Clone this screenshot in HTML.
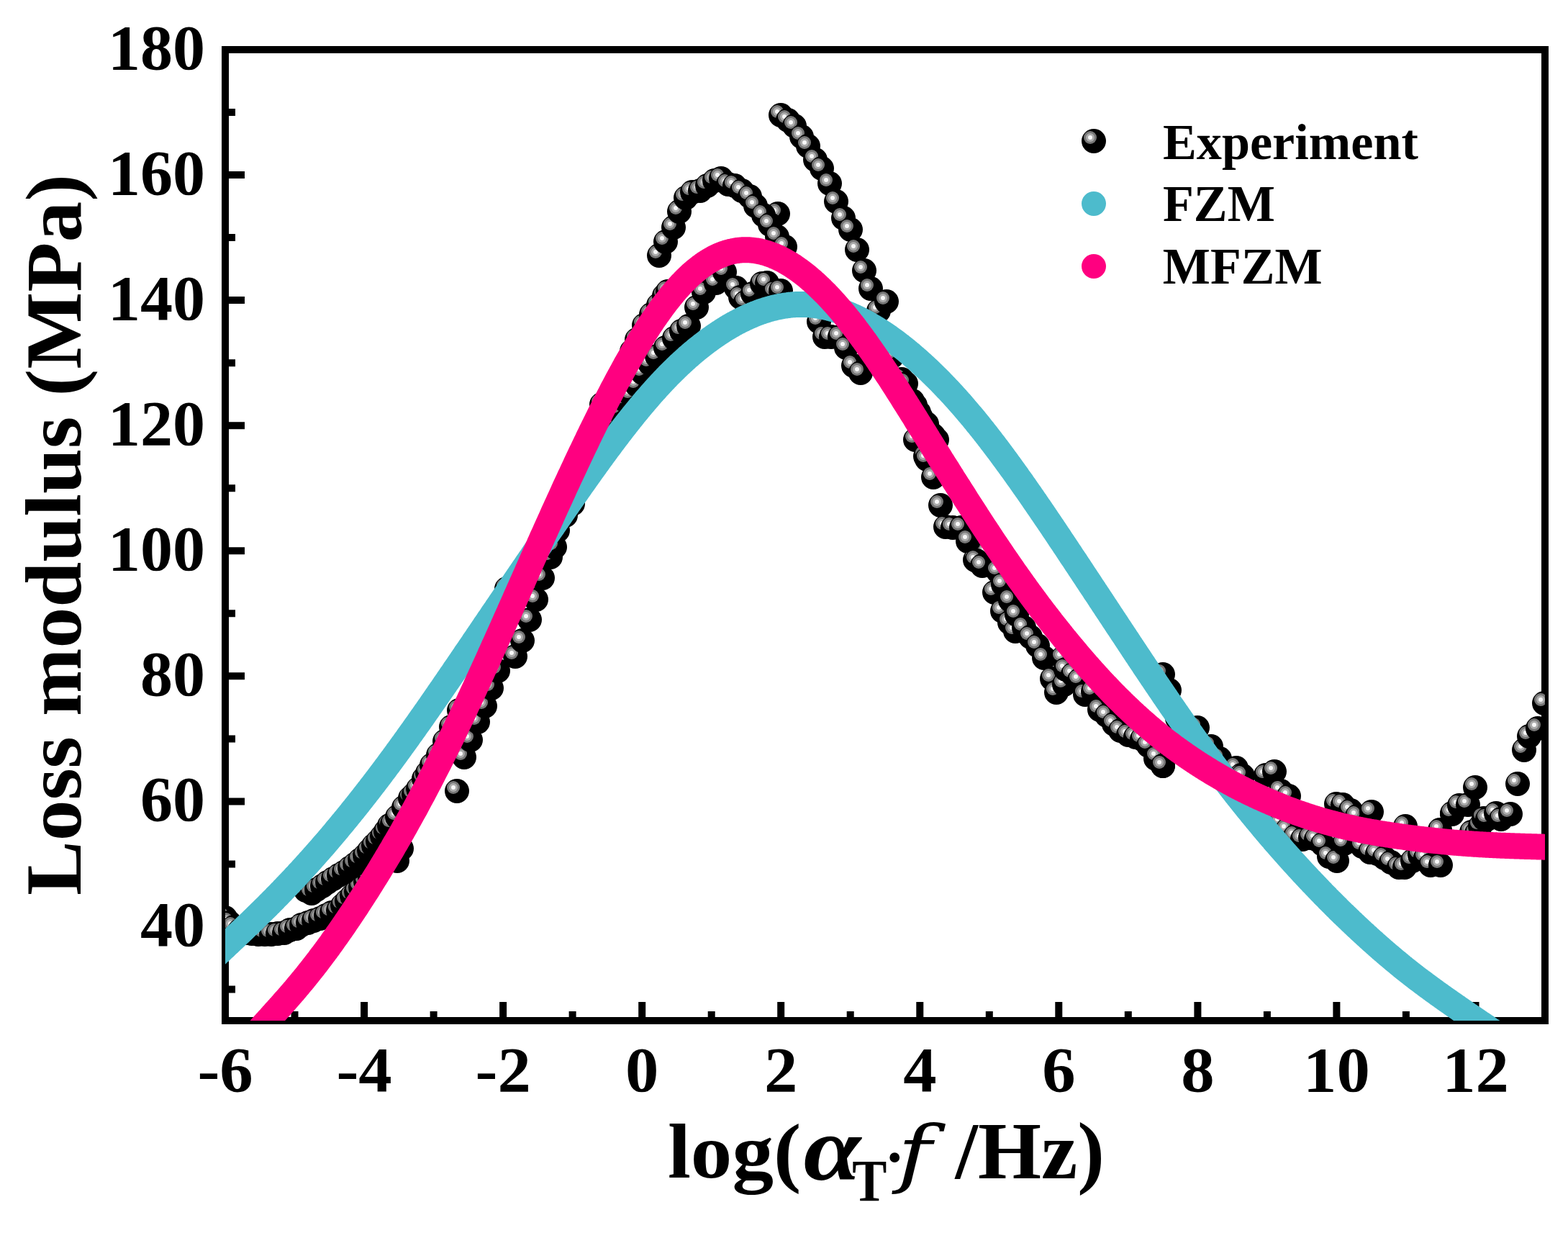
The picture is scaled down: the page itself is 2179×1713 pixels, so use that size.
<!DOCTYPE html><html><head><meta charset="utf-8"><title>Loss modulus</title><style>html,body{margin:0;padding:0;background:#fff;overflow:hidden}svg{display:block}text{font-family:"Liberation Serif",serif;font-kerning:none;fill:#000}</style></head><body>
<svg width="2179" height="1713" viewBox="0 0 2179 1713" xmlns="http://www.w3.org/2000/svg">
<defs><clipPath id="pc"><rect x="313" y="69" width="1834" height="1349"/></clipPath><g id="b"><circle r="17" fill="#000"/><circle cx="-5" cy="-5" r="9" fill="#777"/><circle cx="-5" cy="-5" r="6" fill="#ababab"/><circle cx="-5" cy="-5" r="3" fill="#f8f8f8"/></g></defs>
<rect x="313" y="69" width="1834" height="1349" fill="none" stroke="#000" stroke-width="10"/>
<path d="M313 1374.5h14 M313 1287.5h27 M313 1200.4h14 M313 1113.4h27 M313 1026.4h14 M313 939.3h27 M313 852.3h14 M313 765.3h27 M313 678.2h14 M313 591.2h27 M313 504.2h14 M313 417.1h27 M313 330.1h14 M313 243.1h27 M313 156.0h14 M313 69.0h27 M409.5 1418v-13 M506.1 1418v-26 M602.6 1418v-13 M699.1 1418v-26 M795.6 1418v-13 M892.2 1418v-26 M988.7 1418v-13 M1085.2 1418v-26 M1181.7 1418v-13 M1278.3 1418v-26 M1374.8 1418v-13 M1471.3 1418v-26 M1567.8 1418v-13 M1664.4 1418v-26 M1760.9 1418v-13 M1857.4 1418v-26 M1953.9 1418v-13 M2050.5 1418v-26" stroke="#000" stroke-width="10" fill="none"/>
<g transform="matrix(1.0000,0,0,0.9770,0.00,1220.28)"><text x="285" y="96" font-size="90" font-weight="bold" text-anchor="end">40</text></g>
<g transform="matrix(1.0000,0,0,0.9770,0.00,1046.21)"><text x="285" y="96" font-size="90" font-weight="bold" text-anchor="end">60</text></g>
<g transform="matrix(1.0000,0,0,0.9770,0.00,872.15)"><text x="285" y="96" font-size="90" font-weight="bold" text-anchor="end">80</text></g>
<g transform="matrix(1.0000,0,0,0.9770,0.00,698.08)"><text x="285" y="96" font-size="90" font-weight="bold" text-anchor="end">100</text></g>
<g transform="matrix(1.0000,0,0,0.9770,0.00,524.02)"><text x="285" y="96" font-size="90" font-weight="bold" text-anchor="end">120</text></g>
<g transform="matrix(1.0000,0,0,0.9770,0.00,349.96)"><text x="285" y="96" font-size="90" font-weight="bold" text-anchor="end">140</text></g>
<g transform="matrix(1.0000,0,0,0.9770,0.00,175.89)"><text x="285" y="96" font-size="90" font-weight="bold" text-anchor="end">160</text></g>
<g transform="matrix(1.0000,0,0,0.9770,0.00,1.83)"><text x="285" y="96" font-size="90" font-weight="bold" text-anchor="end">180</text></g>
<g transform="matrix(1.0304,0,0,0.9869,-1600.91,18.81)"><text x="1857.5" y="1517" font-size="90" font-weight="bold" text-anchor="middle">-6</text></g>
<g transform="matrix(1.0304,0,0,0.9869,-1407.86,18.81)"><text x="1857.5" y="1517" font-size="90" font-weight="bold" text-anchor="middle">-4</text></g>
<g transform="matrix(1.0304,0,0,0.9869,-1214.81,18.81)"><text x="1857.5" y="1517" font-size="90" font-weight="bold" text-anchor="middle">-2</text></g>
<g transform="matrix(1.0304,0,0,0.9869,-1021.75,18.81)"><text x="1857.5" y="1517" font-size="90" font-weight="bold" text-anchor="middle">0</text></g>
<g transform="matrix(1.0304,0,0,0.9869,-828.70,18.81)"><text x="1857.5" y="1517" font-size="90" font-weight="bold" text-anchor="middle">2</text></g>
<g transform="matrix(1.0304,0,0,0.9869,-635.65,18.81)"><text x="1857.5" y="1517" font-size="90" font-weight="bold" text-anchor="middle">4</text></g>
<g transform="matrix(1.0304,0,0,0.9869,-442.60,18.81)"><text x="1857.5" y="1517" font-size="90" font-weight="bold" text-anchor="middle">6</text></g>
<g transform="matrix(1.0304,0,0,0.9869,-249.54,18.81)"><text x="1857.5" y="1517" font-size="90" font-weight="bold" text-anchor="middle">8</text></g>
<g transform="matrix(1.0304,0,0,0.9869,-56.49,18.81)"><text x="1857.5" y="1517" font-size="90" font-weight="bold" text-anchor="middle">10</text></g>
<g transform="matrix(1.0304,0,0,0.9869,136.56,18.81)"><text x="1857.5" y="1517" font-size="90" font-weight="bold" text-anchor="middle">12</text></g>
<g clip-path="url(#pc)">
<use href="#b" x="313" y="1275"/><use href="#b" x="319" y="1282"/><use href="#b" x="325" y="1288"/><use href="#b" x="333" y="1293"/><use href="#b" x="341" y="1296"/><use href="#b" x="350" y="1297"/><use href="#b" x="359" y="1298"/><use href="#b" x="368" y="1298"/><use href="#b" x="377" y="1298"/><use href="#b" x="386" y="1297"/><use href="#b" x="395" y="1296"/><use href="#b" x="403" y="1292"/><use href="#b" x="412" y="1290"/><use href="#b" x="419" y="1285"/><use href="#b" x="428" y="1282"/><use href="#b" x="436" y="1279"/><use href="#b" x="445" y="1276"/><use href="#b" x="453" y="1272"/><use href="#b" x="461" y="1268"/><use href="#b" x="470" y="1265"/><use href="#b" x="476" y="1258"/><use href="#b" x="482" y="1252"/><use href="#b" x="489" y="1245"/><use href="#b" x="495" y="1239"/><use href="#b" x="501" y="1233"/><use href="#b" x="508" y="1226"/><use href="#b" x="514" y="1219"/><use href="#b" x="519" y="1212"/><use href="#b" x="524" y="1205"/><use href="#b" x="530" y="1197"/><use href="#b" x="535" y="1190"/><use href="#b" x="540" y="1183"/><use href="#b" x="545" y="1175"/><use href="#b" x="425" y="1237"/><use href="#b" x="433" y="1241"/><use href="#b" x="440" y="1236"/><use href="#b" x="448" y="1231"/><use href="#b" x="455" y="1226"/><use href="#b" x="463" y="1221"/><use href="#b" x="471" y="1216"/><use href="#b" x="478" y="1212"/><use href="#b" x="486" y="1206"/><use href="#b" x="493" y="1201"/><use href="#b" x="500" y="1195"/><use href="#b" x="507" y="1189"/><use href="#b" x="513" y="1182"/><use href="#b" x="519" y="1175"/><use href="#b" x="525" y="1169"/><use href="#b" x="531" y="1162"/><use href="#b" x="536" y="1155"/><use href="#b" x="541" y="1147"/><use href="#b" x="545" y="1145"/><use href="#b" x="552" y="1135"/><use href="#b" x="561" y="1122"/><use href="#b" x="570" y="1109"/><use href="#b" x="575" y="1104"/><use href="#b" x="581" y="1096"/><use href="#b" x="589" y="1082"/><use href="#b" x="594" y="1074"/><use href="#b" x="600" y="1063"/><use href="#b" x="609" y="1049"/><use href="#b" x="618" y="1030"/><use href="#b" x="627" y="1010"/><use href="#b" x="638" y="987"/><use href="#b" x="552" y="1196"/><use href="#b" x="558" y="1179"/><use href="#b" x="635" y="1099"/><use href="#b" x="645" y="1052"/><use href="#b" x="654" y="1028"/><use href="#b" x="664" y="1003"/><use href="#b" x="674" y="981"/><use href="#b" x="683" y="956"/><use href="#b" x="692" y="932"/><use href="#b" x="704" y="818"/><use href="#b" x="716" y="912"/><use href="#b" x="726" y="890"/><use href="#b" x="736" y="861"/><use href="#b" x="745" y="833"/><use href="#b" x="754" y="803"/><use href="#b" x="765" y="774"/><use href="#b" x="771" y="760"/><use href="#b" x="775" y="737"/><use href="#b" x="786" y="716"/><use href="#b" x="796" y="700"/><use href="#b" x="836" y="562"/><use href="#b" x="869" y="507"/><use href="#b" x="878" y="488"/><use href="#b" x="885" y="472"/><use href="#b" x="895" y="452"/><use href="#b" x="905" y="437"/><use href="#b" x="915" y="424"/><use href="#b" x="923" y="411"/><use href="#b" x="928" y="405"/><use href="#b" x="838" y="600"/><use href="#b" x="848" y="585"/><use href="#b" x="858" y="570"/><use href="#b" x="868" y="556"/><use href="#b" x="877" y="549"/><use href="#b" x="885" y="535"/><use href="#b" x="893" y="518"/><use href="#b" x="903" y="505"/><use href="#b" x="913" y="495"/><use href="#b" x="925" y="483"/><use href="#b" x="937" y="470"/><use href="#b" x="947" y="460"/><use href="#b" x="957" y="453"/><use href="#b" x="968" y="427"/><use href="#b" x="978" y="406"/><use href="#b" x="995" y="393"/><use href="#b" x="1007" y="378"/><use href="#b" x="1023" y="400"/><use href="#b" x="1029" y="413"/><use href="#b" x="1036" y="420"/><use href="#b" x="1046" y="408"/><use href="#b" x="1059" y="394"/><use href="#b" x="1066" y="393"/><use href="#b" x="1077" y="406"/><use href="#b" x="1081" y="297"/><use href="#b" x="1085" y="404"/><use href="#b" x="1138" y="447"/><use href="#b" x="1146" y="468"/><use href="#b" x="1155" y="468"/><use href="#b" x="1167" y="468"/><use href="#b" x="1176" y="483"/><use href="#b" x="1186" y="508"/><use href="#b" x="1196" y="518"/><use href="#b" x="916" y="355"/><use href="#b" x="925" y="336"/><use href="#b" x="936" y="316"/><use href="#b" x="944" y="294"/><use href="#b" x="953" y="275"/><use href="#b" x="962" y="267"/><use href="#b" x="973" y="265"/><use href="#b" x="983" y="258"/><use href="#b" x="993" y="251"/><use href="#b" x="1002" y="248"/><use href="#b" x="1012" y="256"/><use href="#b" x="1021" y="258"/><use href="#b" x="1031" y="265"/><use href="#b" x="1042" y="273"/><use href="#b" x="1050" y="286"/><use href="#b" x="1061" y="299"/><use href="#b" x="1070" y="312"/><use href="#b" x="1080" y="329"/><use href="#b" x="1091" y="343"/><use href="#b" x="1085" y="160"/><use href="#b" x="1095" y="167"/><use href="#b" x="1104" y="175"/><use href="#b" x="1114" y="190"/><use href="#b" x="1123" y="203"/><use href="#b" x="1133" y="222"/><use href="#b" x="1142" y="234"/><use href="#b" x="1153" y="255"/><use href="#b" x="1162" y="280"/><use href="#b" x="1172" y="303"/><use href="#b" x="1182" y="319"/><use href="#b" x="1191" y="347"/><use href="#b" x="1201" y="376"/><use href="#b" x="1210" y="401"/><use href="#b" x="1221" y="432"/><use href="#b" x="1232" y="419"/><use href="#b" x="1240" y="495"/><use href="#b" x="1253" y="527"/><use href="#b" x="1259" y="533"/><use href="#b" x="1268" y="557"/><use href="#b" x="1272" y="563"/><use href="#b" x="1272" y="611"/><use href="#b" x="1277" y="573"/><use href="#b" x="1280" y="580"/><use href="#b" x="1286" y="634"/><use href="#b" x="1288" y="638"/><use href="#b" x="1288" y="589"/><use href="#b" x="1291" y="599"/><use href="#b" x="1297" y="605"/><use href="#b" x="1297" y="663"/><use href="#b" x="1302" y="611"/><use href="#b" x="1307" y="702"/><use href="#b" x="1314" y="732"/><use href="#b" x="1324" y="733"/><use href="#b" x="1336" y="733"/><use href="#b" x="1345" y="752"/><use href="#b" x="1355" y="778"/><use href="#b" x="1365" y="783"/><use href="#b" x="1372" y="768"/><use href="#b" x="1346" y="751"/><use href="#b" x="1357" y="779"/><use href="#b" x="1365" y="786"/><use href="#b" x="1382" y="823"/><use href="#b" x="1387" y="794"/><use href="#b" x="1393" y="849"/><use href="#b" x="1394" y="812"/><use href="#b" x="1403" y="865"/><use href="#b" x="1404" y="834"/><use href="#b" x="1411" y="877"/><use href="#b" x="1413" y="854"/><use href="#b" x="1423" y="872"/><use href="#b" x="1432" y="885"/><use href="#b" x="1442" y="897"/><use href="#b" x="1451" y="914"/><use href="#b" x="1462" y="943"/><use href="#b" x="1468" y="962"/><use href="#b" x="1477" y="914"/><use href="#b" x="1479" y="951"/><use href="#b" x="1481" y="930"/><use href="#b" x="1491" y="937"/><use href="#b" x="1500" y="945"/><use href="#b" x="1508" y="965"/><use href="#b" x="1519" y="961"/><use href="#b" x="1528" y="986"/><use href="#b" x="1538" y="994"/><use href="#b" x="1548" y="1006"/><use href="#b" x="1557" y="1015"/><use href="#b" x="1568" y="1021"/><use href="#b" x="1578" y="1024"/><use href="#b" x="1587" y="1027"/><use href="#b" x="1596" y="1036"/><use href="#b" x="1606" y="1054"/><use href="#b" x="1608" y="1052"/><use href="#b" x="1616" y="1064"/><use href="#b" x="1616" y="1064"/><use href="#b" x="1616" y="937"/><use href="#b" x="1625" y="959"/><use href="#b" x="1636" y="998"/><use href="#b" x="1664" y="1011"/><use href="#b" x="1683" y="1037"/><use href="#b" x="1695" y="1054"/><use href="#b" x="1717" y="1068"/><use href="#b" x="1718" y="1067"/><use href="#b" x="1725" y="1077"/><use href="#b" x="1727" y="1078"/><use href="#b" x="1759" y="1077"/><use href="#b" x="1771" y="1072"/><use href="#b" x="1780" y="1099"/><use href="#b" x="1791" y="1106"/><use href="#b" x="1857" y="1117"/><use href="#b" x="1866" y="1118"/><use href="#b" x="1877" y="1126"/><use href="#b" x="1886" y="1134"/><use href="#b" x="1906" y="1128"/><use href="#b" x="1953" y="1148"/><use href="#b" x="2001" y="1153"/><use href="#b" x="2018" y="1131"/><use href="#b" x="2018" y="1130"/><use href="#b" x="2028" y="1119"/><use href="#b" x="2040" y="1118"/><use href="#b" x="2045" y="1156"/><use href="#b" x="2050" y="1094"/><use href="#b" x="2052" y="1158"/><use href="#b" x="2057" y="1148"/><use href="#b" x="2062" y="1137"/><use href="#b" x="2067" y="1138"/><use href="#b" x="2079" y="1130"/><use href="#b" x="2086" y="1138"/><use href="#b" x="2099" y="1131"/><use href="#b" x="2109" y="1089"/><use href="#b" x="2118" y="1042"/><use href="#b" x="2125" y="1023"/><use href="#b" x="2137" y="1012"/><use href="#b" x="2146" y="977"/><use href="#b" x="1780" y="1143"/><use href="#b" x="1789" y="1153"/><use href="#b" x="1800" y="1162"/><use href="#b" x="1810" y="1166"/><use href="#b" x="1821" y="1164"/><use href="#b" x="1829" y="1166"/><use href="#b" x="1838" y="1173"/><use href="#b" x="1847" y="1190"/><use href="#b" x="1858" y="1196"/><use href="#b" x="1868" y="1172"/><use href="#b" x="1893" y="1176"/><use href="#b" x="1904" y="1184"/><use href="#b" x="1914" y="1186"/><use href="#b" x="1924" y="1192"/><use href="#b" x="1933" y="1198"/><use href="#b" x="1944" y="1205"/><use href="#b" x="1952" y="1205"/><use href="#b" x="1963" y="1196"/><use href="#b" x="1973" y="1188"/><use href="#b" x="1981" y="1192"/><use href="#b" x="1988" y="1202"/><use href="#b" x="2002" y="1202"/>
<path d="M300.0 1327.2 L301.3 1326.0 L302.6 1324.8 L303.8 1323.6 L305.1 1322.4 L306.4 1321.2 L307.7 1320.0 L308.9 1318.8 L310.2 1317.6 L311.5 1316.4 L312.8 1315.2 L314.0 1314.0 L315.3 1312.8 L316.6 1311.6 L317.9 1310.4 L319.1 1309.2 L320.4 1308.0 L321.7 1306.8 L323.0 1305.6 L324.2 1304.4 L325.5 1303.2 L326.8 1301.9 L328.1 1300.7 L329.3 1299.5 L330.6 1298.3 L331.9 1297.1 L333.2 1295.9 L334.4 1294.7 L335.7 1293.4 L337.0 1292.2 L338.3 1291.0 L339.6 1289.8 L340.8 1288.6 L342.1 1287.3 L343.4 1286.1 L344.7 1284.9 L345.9 1283.7 L347.2 1282.4 L348.5 1281.2 L349.8 1280.0 L351.0 1278.7 L352.3 1277.5 L353.6 1276.3 L354.9 1275.0 L356.1 1273.8 L357.4 1272.5 L358.7 1271.3 L360.0 1270.0 L361.2 1268.8 L362.5 1267.5 L363.8 1266.3 L365.1 1265.0 L366.3 1263.8 L367.6 1262.5 L368.9 1261.2 L370.2 1260.0 L371.5 1258.7 L372.7 1257.4 L374.0 1256.1 L375.3 1254.9 L376.6 1253.6 L377.8 1252.3 L379.1 1251.0 L380.4 1249.7 L381.7 1248.4 L382.9 1247.1 L384.2 1245.8 L385.5 1244.5 L386.8 1243.2 L388.0 1241.9 L389.3 1240.6 L390.6 1239.3 L391.9 1237.9 L393.1 1236.6 L394.4 1235.3 L395.7 1234.0 L397.0 1232.6 L398.2 1231.3 L399.5 1230.0 L400.8 1228.6 L402.1 1227.3 L403.3 1225.9 L404.6 1224.6 L405.9 1223.2 L407.2 1221.9 L408.5 1220.5 L409.7 1219.1 L411.0 1217.8 L412.3 1216.4 L413.6 1215.0 L414.8 1213.6 L416.1 1212.3 L417.4 1210.9 L418.7 1209.5 L419.9 1208.1 L421.2 1206.7 L422.5 1205.3 L423.8 1203.9 L425.0 1202.5 L426.3 1201.1 L427.6 1199.7 L428.9 1198.2 L430.1 1196.8 L431.4 1195.4 L432.7 1194.0 L434.0 1192.5 L435.2 1191.1 L436.5 1189.7 L437.8 1188.2 L439.1 1186.8 L440.4 1185.3 L441.6 1183.9 L442.9 1182.4 L444.2 1181.0 L445.5 1179.5 L446.7 1178.1 L448.0 1176.6 L449.3 1175.1 L450.6 1173.6 L451.8 1172.2 L453.1 1170.7 L454.4 1169.2 L455.7 1167.7 L456.9 1166.2 L458.2 1164.7 L459.5 1163.2 L460.8 1161.7 L462.0 1160.2 L463.3 1158.7 L464.6 1157.2 L465.9 1155.7 L467.1 1154.1 L468.4 1152.6 L469.7 1151.1 L471.0 1149.5 L472.2 1148.0 L473.5 1146.5 L474.8 1144.9 L476.1 1143.4 L477.4 1141.8 L478.6 1140.3 L479.9 1138.7 L481.2 1137.2 L482.5 1135.6 L483.7 1134.0 L485.0 1132.5 L486.3 1130.9 L487.6 1129.3 L488.8 1127.7 L490.1 1126.1 L491.4 1124.6 L492.7 1123.0 L493.9 1121.4 L495.2 1119.8 L496.5 1118.2 L497.8 1116.6 L499.0 1115.0 L500.3 1113.3 L501.6 1111.7 L502.9 1110.1 L504.1 1108.5 L505.4 1106.9 L506.7 1105.2 L508.0 1103.6 L509.2 1102.0 L510.5 1100.3 L511.8 1098.7 L513.1 1097.0 L514.4 1095.4 L515.6 1093.7 L516.9 1092.1 L518.2 1090.4 L519.5 1088.7 L520.7 1087.1 L522.0 1085.4 L523.3 1083.7 L524.6 1082.1 L525.8 1080.4 L527.1 1078.7 L528.4 1077.0 L529.7 1075.3 L530.9 1073.6 L532.2 1071.9 L533.5 1070.2 L534.8 1068.5 L536.0 1066.8 L537.3 1065.1 L538.6 1063.4 L539.9 1061.7 L541.1 1059.9 L542.4 1058.2 L543.7 1056.5 L545.0 1054.8 L546.3 1053.0 L547.5 1051.3 L548.8 1049.6 L550.1 1047.8 L551.4 1046.1 L552.6 1044.3 L553.9 1042.6 L555.2 1040.8 L556.5 1039.1 L557.7 1037.3 L559.0 1035.5 L560.3 1033.8 L561.6 1032.0 L562.8 1030.2 L564.1 1028.5 L565.4 1026.7 L566.7 1024.9 L567.9 1023.1 L569.2 1021.3 L570.5 1019.5 L571.8 1017.8 L573.0 1016.0 L574.3 1014.2 L575.6 1012.4 L576.9 1010.6 L578.1 1008.8 L579.4 1007.0 L580.7 1005.2 L582.0 1003.4 L583.3 1001.5 L584.5 999.7 L585.8 997.9 L587.1 996.1 L588.4 994.3 L589.6 992.5 L590.9 990.6 L592.2 988.8 L593.5 987.0 L594.7 985.2 L596.0 983.3 L597.3 981.5 L598.6 979.7 L599.8 977.8 L601.1 976.0 L602.4 974.1 L603.7 972.3 L604.9 970.5 L606.2 968.6 L607.5 966.8 L608.8 964.9 L610.0 963.1 L611.3 961.2 L612.6 959.4 L613.9 957.5 L615.2 955.7 L616.4 953.8 L617.7 951.9 L619.0 950.1 L620.3 948.2 L621.5 946.4 L622.8 944.5 L624.1 942.6 L625.4 940.8 L626.6 938.9 L627.9 937.0 L629.2 935.2 L630.5 933.3 L631.7 931.4 L633.0 929.6 L634.3 927.7 L635.6 925.8 L636.8 924.0 L638.1 922.1 L639.4 920.2 L640.7 918.3 L641.9 916.5 L643.2 914.6 L644.5 912.7 L645.8 910.8 L647.0 908.9 L648.3 907.1 L649.6 905.2 L650.9 903.3 L652.2 901.4 L653.4 899.5 L654.7 897.7 L656.0 895.8 L657.3 893.9 L658.5 892.0 L659.8 890.1 L661.1 888.3 L662.4 886.4 L663.6 884.5 L664.9 882.6 L666.2 880.7 L667.5 878.8 L668.7 877.0 L670.0 875.1 L671.3 873.2 L672.6 871.3 L673.8 869.4 L675.1 867.6 L676.4 865.7 L677.7 863.8 L678.9 861.9 L680.2 860.0 L681.5 858.2 L682.8 856.3 L684.0 854.4 L685.3 852.5 L686.6 850.6 L687.9 848.8 L689.2 846.9 L690.4 845.0 L691.7 843.1 L693.0 841.2 L694.3 839.4 L695.5 837.5 L696.8 835.6 L698.1 833.7 L699.4 831.9 L700.6 830.0 L701.9 828.1 L703.2 826.2 L704.5 824.3 L705.7 822.5 L707.0 820.6 L708.3 818.7 L709.6 816.8 L710.8 815.0 L712.1 813.1 L713.4 811.2 L714.7 809.3 L715.9 807.5 L717.2 805.6 L718.5 803.7 L719.8 801.9 L721.1 800.0 L722.3 798.1 L723.6 796.2 L724.9 794.4 L726.2 792.5 L727.4 790.6 L728.7 788.8 L730.0 786.9 L731.3 785.0 L732.5 783.1 L733.8 781.3 L735.1 779.4 L736.4 777.5 L737.6 775.7 L738.9 773.8 L740.2 771.9 L741.5 770.1 L742.7 768.2 L744.0 766.3 L745.3 764.5 L746.6 762.6 L747.8 760.8 L749.1 758.9 L750.4 757.0 L751.7 755.2 L752.9 753.3 L754.2 751.5 L755.5 749.6 L756.8 747.8 L758.1 745.9 L759.3 744.0 L760.6 742.2 L761.9 740.3 L763.2 738.5 L764.4 736.6 L765.7 734.8 L767.0 732.9 L768.3 731.1 L769.5 729.2 L770.8 727.4 L772.1 725.5 L773.4 723.7 L774.6 721.8 L775.9 720.0 L777.2 718.2 L778.5 716.3 L779.7 714.5 L781.0 712.6 L782.3 710.8 L783.6 709.0 L784.8 707.1 L786.1 705.3 L787.4 703.5 L788.7 701.6 L789.9 699.8 L791.2 698.0 L792.5 696.1 L793.8 694.3 L795.1 692.5 L796.3 690.6 L797.6 688.8 L798.9 687.0 L800.2 685.2 L801.4 683.4 L802.7 681.5 L804.0 679.7 L805.3 677.9 L806.5 676.1 L807.8 674.3 L809.1 672.5 L810.4 670.7 L811.6 668.9 L812.9 667.1 L814.2 665.3 L815.5 663.5 L816.7 661.7 L818.0 659.9 L819.3 658.1 L820.6 656.3 L821.8 654.5 L823.1 652.7 L824.4 651.0 L825.7 649.2 L827.0 647.4 L828.2 645.6 L829.5 643.9 L830.8 642.1 L832.1 640.3 L833.3 638.6 L834.6 636.8 L835.9 635.1 L837.2 633.3 L838.4 631.6 L839.7 629.9 L841.0 628.1 L842.3 626.4 L843.5 624.7 L844.8 622.9 L846.1 621.2 L847.4 619.5 L848.6 617.8 L849.9 616.1 L851.2 614.4 L852.5 612.7 L853.7 611.0 L855.0 609.3 L856.3 607.6 L857.6 606.0 L858.8 604.3 L860.1 602.6 L861.4 600.9 L862.7 599.3 L864.0 597.6 L865.2 596.0 L866.5 594.3 L867.8 592.7 L869.1 591.1 L870.3 589.4 L871.6 587.8 L872.9 586.2 L874.2 584.6 L875.4 583.0 L876.7 581.4 L878.0 579.8 L879.3 578.2 L880.5 576.6 L881.8 575.0 L883.1 573.5 L884.4 571.9 L885.6 570.4 L886.9 568.8 L888.2 567.3 L889.5 565.7 L890.7 564.2 L892.0 562.7 L893.3 561.1 L894.6 559.6 L895.9 558.1 L897.1 556.6 L898.4 555.1 L899.7 553.7 L901.0 552.2 L902.2 550.7 L903.5 549.2 L904.8 547.8 L906.1 546.3 L907.3 544.9 L908.6 543.5 L909.9 542.1 L911.2 540.6 L912.4 539.2 L913.7 537.8 L915.0 536.4 L916.3 535.0 L917.5 533.7 L918.8 532.3 L920.1 530.9 L921.4 529.6 L922.6 528.2 L923.9 526.9 L925.2 525.6 L926.5 524.3 L927.7 522.9 L929.0 521.6 L930.3 520.3 L931.6 519.0 L932.9 517.8 L934.1 516.5 L935.4 515.2 L936.7 514.0 L938.0 512.7 L939.2 511.5 L940.5 510.3 L941.8 509.0 L943.1 507.8 L944.3 506.6 L945.6 505.4 L946.9 504.2 L948.2 503.0 L949.4 501.9 L950.7 500.7 L952.0 499.6 L953.3 498.4 L954.5 497.3 L955.8 496.1 L957.1 495.0 L958.4 493.9 L959.6 492.8 L960.9 491.7 L962.2 490.6 L963.5 489.5 L964.7 488.5 L966.0 487.4 L967.3 486.3 L968.6 485.3 L969.9 484.3 L971.1 483.2 L972.4 482.2 L973.7 481.2 L975.0 480.2 L976.2 479.2 L977.5 478.2 L978.8 477.2 L980.1 476.2 L981.3 475.3 L982.6 474.3 L983.9 473.4 L985.2 472.4 L986.4 471.5 L987.7 470.6 L989.0 469.7 L990.3 468.8 L991.5 467.9 L992.8 467.0 L994.1 466.1 L995.4 465.2 L996.6 464.4 L997.9 463.5 L999.2 462.7 L1000.5 461.8 L1001.8 461.0 L1003.0 460.2 L1004.3 459.3 L1005.6 458.5 L1006.9 457.7 L1008.1 457.0 L1009.4 456.2 L1010.7 455.4 L1012.0 454.6 L1013.2 453.9 L1014.5 453.1 L1015.8 452.4 L1017.1 451.7 L1018.3 450.9 L1019.6 450.2 L1020.9 449.5 L1022.2 448.8 L1023.4 448.1 L1024.7 447.5 L1026.0 446.8 L1027.3 446.1 L1028.5 445.5 L1029.8 444.8 L1031.1 444.2 L1032.4 443.6 L1033.6 442.9 L1034.9 442.3 L1036.2 441.7 L1037.5 441.1 L1038.8 440.6 L1040.0 440.0 L1041.3 439.4 L1042.6 438.9 L1043.9 438.3 L1045.1 437.8 L1046.4 437.2 L1047.7 436.7 L1049.0 436.2 L1050.2 435.7 L1051.5 435.2 L1052.8 434.7 L1054.1 434.2 L1055.3 433.8 L1056.6 433.3 L1057.9 432.9 L1059.2 432.4 L1060.4 432.0 L1061.7 431.6 L1063.0 431.2 L1064.3 430.8 L1065.5 430.4 L1066.8 430.0 L1068.1 429.6 L1069.4 429.2 L1070.7 428.9 L1071.9 428.5 L1073.2 428.2 L1074.5 427.9 L1075.8 427.6 L1077.0 427.3 L1078.3 427.0 L1079.6 426.7 L1080.9 426.4 L1082.1 426.1 L1083.4 425.9 L1084.7 425.6 L1086.0 425.4 L1087.2 425.2 L1088.5 425.0 L1089.8 424.8 L1091.1 424.6 L1092.3 424.4 L1093.6 424.2 L1094.9 424.1 L1096.2 423.9 L1097.4 423.8 L1098.7 423.6 L1100.0 423.5 L1101.3 423.4 L1102.5 423.3 L1103.8 423.2 L1105.1 423.1 L1106.4 423.1 L1107.7 423.0 L1108.9 423.0 L1110.2 422.9 L1111.5 422.9 L1112.8 422.9 L1114.0 422.9 L1115.3 422.9 L1116.6 422.9 L1117.9 422.9 L1119.1 423.0 L1120.4 423.0 L1121.7 423.1 L1123.0 423.2 L1124.2 423.3 L1125.5 423.4 L1126.8 423.5 L1128.1 423.6 L1129.3 423.7 L1130.6 423.9 L1131.9 424.0 L1133.2 424.2 L1134.4 424.3 L1135.7 424.5 L1137.0 424.7 L1138.3 424.9 L1139.5 425.1 L1140.8 425.4 L1142.1 425.6 L1143.4 425.8 L1144.7 426.1 L1145.9 426.4 L1147.2 426.6 L1148.5 426.9 L1149.8 427.2 L1151.0 427.5 L1152.3 427.8 L1153.6 428.2 L1154.9 428.5 L1156.1 428.9 L1157.4 429.2 L1158.7 429.6 L1160.0 430.0 L1161.2 430.4 L1162.5 430.7 L1163.8 431.2 L1165.1 431.6 L1166.3 432.0 L1167.6 432.4 L1168.9 432.9 L1170.2 433.3 L1171.4 433.8 L1172.7 434.3 L1174.0 434.8 L1175.3 435.3 L1176.6 435.8 L1177.8 436.3 L1179.1 436.8 L1180.4 437.3 L1181.7 437.9 L1182.9 438.4 L1184.2 439.0 L1185.5 439.5 L1186.8 440.1 L1188.0 440.7 L1189.3 441.3 L1190.6 441.9 L1191.9 442.5 L1193.1 443.1 L1194.4 443.8 L1195.7 444.4 L1197.0 445.1 L1198.2 445.7 L1199.5 446.4 L1200.8 447.1 L1202.1 447.8 L1203.3 448.4 L1204.6 449.1 L1205.9 449.9 L1207.2 450.6 L1208.4 451.3 L1209.7 452.0 L1211.0 452.8 L1212.3 453.5 L1213.6 454.3 L1214.8 455.1 L1216.1 455.8 L1217.4 456.6 L1218.7 457.4 L1219.9 458.2 L1221.2 459.0 L1222.5 459.8 L1223.8 460.7 L1225.0 461.5 L1226.3 462.3 L1227.6 463.2 L1228.9 464.0 L1230.1 464.9 L1231.4 465.8 L1232.7 466.6 L1234.0 467.5 L1235.2 468.4 L1236.5 469.3 L1237.8 470.2 L1239.1 471.2 L1240.3 472.1 L1241.6 473.0 L1242.9 473.9 L1244.2 474.9 L1245.5 475.8 L1246.7 476.8 L1248.0 477.8 L1249.3 478.8 L1250.6 479.7 L1251.8 480.7 L1253.1 481.7 L1254.4 482.7 L1255.7 483.7 L1256.9 484.8 L1258.2 485.8 L1259.5 486.8 L1260.8 487.9 L1262.0 488.9 L1263.3 490.0 L1264.6 491.0 L1265.9 492.1 L1267.1 493.2 L1268.4 494.3 L1269.7 495.4 L1271.0 496.5 L1272.2 497.6 L1273.5 498.7 L1274.8 499.8 L1276.1 501.0 L1277.3 502.1 L1278.6 503.2 L1279.9 504.4 L1281.2 505.5 L1282.5 506.7 L1283.7 507.9 L1285.0 509.0 L1286.3 510.2 L1287.6 511.4 L1288.8 512.6 L1290.1 513.8 L1291.4 515.0 L1292.7 516.3 L1293.9 517.5 L1295.2 518.7 L1296.5 520.0 L1297.8 521.2 L1299.0 522.5 L1300.3 523.7 L1301.6 525.0 L1302.9 526.3 L1304.1 527.5 L1305.4 528.8 L1306.7 530.1 L1308.0 531.4 L1309.2 532.7 L1310.5 534.1 L1311.8 535.4 L1313.1 536.7 L1314.3 538.0 L1315.6 539.4 L1316.9 540.7 L1318.2 542.1 L1319.5 543.5 L1320.7 544.8 L1322.0 546.2 L1323.3 547.6 L1324.6 549.0 L1325.8 550.4 L1327.1 551.8 L1328.4 553.2 L1329.7 554.6 L1330.9 556.0 L1332.2 557.5 L1333.5 558.9 L1334.8 560.4 L1336.0 561.8 L1337.3 563.3 L1338.6 564.7 L1339.9 566.2 L1341.1 567.7 L1342.4 569.2 L1343.7 570.7 L1345.0 572.2 L1346.2 573.7 L1347.5 575.2 L1348.8 576.7 L1350.1 578.3 L1351.4 579.8 L1352.6 581.3 L1353.9 582.9 L1355.2 584.4 L1356.5 586.0 L1357.7 587.6 L1359.0 589.1 L1360.3 590.7 L1361.6 592.3 L1362.8 593.9 L1364.1 595.5 L1365.4 597.1 L1366.7 598.7 L1367.9 600.3 L1369.2 601.9 L1370.5 603.6 L1371.8 605.2 L1373.0 606.8 L1374.3 608.5 L1375.6 610.1 L1376.9 611.8 L1378.1 613.5 L1379.4 615.1 L1380.7 616.8 L1382.0 618.5 L1383.2 620.2 L1384.5 621.8 L1385.8 623.5 L1387.1 625.2 L1388.4 626.9 L1389.6 628.6 L1390.9 630.3 L1392.2 632.1 L1393.5 633.8 L1394.7 635.5 L1396.0 637.2 L1397.3 639.0 L1398.6 640.7 L1399.8 642.5 L1401.1 644.2 L1402.4 646.0 L1403.7 647.7 L1404.9 649.5 L1406.2 651.2 L1407.5 653.0 L1408.8 654.8 L1410.0 656.6 L1411.3 658.3 L1412.6 660.1 L1413.9 661.9 L1415.1 663.7 L1416.4 665.5 L1417.7 667.3 L1419.0 669.1 L1420.3 670.9 L1421.5 672.7 L1422.8 674.6 L1424.1 676.4 L1425.4 678.2 L1426.6 680.0 L1427.9 681.8 L1429.2 683.7 L1430.5 685.5 L1431.7 687.3 L1433.0 689.2 L1434.3 691.0 L1435.6 692.9 L1436.8 694.7 L1438.1 696.6 L1439.4 698.4 L1440.7 700.3 L1441.9 702.2 L1443.2 704.0 L1444.5 705.9 L1445.8 707.7 L1447.0 709.6 L1448.3 711.5 L1449.6 713.4 L1450.9 715.2 L1452.1 717.1 L1453.4 719.0 L1454.7 720.9 L1456.0 722.8 L1457.3 724.7 L1458.5 726.5 L1459.8 728.4 L1461.1 730.3 L1462.4 732.2 L1463.6 734.1 L1464.9 736.0 L1466.2 737.9 L1467.5 739.8 L1468.7 741.7 L1470.0 743.6 L1471.3 745.5 L1472.6 747.4 L1473.8 749.4 L1475.1 751.3 L1476.4 753.2 L1477.7 755.1 L1478.9 757.0 L1480.2 758.9 L1481.5 760.8 L1482.8 762.8 L1484.0 764.7 L1485.3 766.6 L1486.6 768.5 L1487.9 770.4 L1489.1 772.4 L1490.4 774.3 L1491.7 776.2 L1493.0 778.1 L1494.3 780.0 L1495.5 782.0 L1496.8 783.9 L1498.1 785.8 L1499.4 787.7 L1500.6 789.7 L1501.9 791.6 L1503.2 793.5 L1504.5 795.5 L1505.7 797.4 L1507.0 799.3 L1508.3 801.2 L1509.6 803.2 L1510.8 805.1 L1512.1 807.0 L1513.4 809.0 L1514.7 810.9 L1515.9 812.8 L1517.2 814.8 L1518.5 816.7 L1519.8 818.6 L1521.0 820.6 L1522.3 822.5 L1523.6 824.4 L1524.9 826.3 L1526.2 828.3 L1527.4 830.2 L1528.7 832.1 L1530.0 834.1 L1531.3 836.0 L1532.5 837.9 L1533.8 839.9 L1535.1 841.8 L1536.4 843.7 L1537.6 845.7 L1538.9 847.6 L1540.2 849.5 L1541.5 851.5 L1542.7 853.4 L1544.0 855.3 L1545.3 857.2 L1546.6 859.2 L1547.8 861.1 L1549.1 863.0 L1550.4 865.0 L1551.7 866.9 L1552.9 868.8 L1554.2 870.8 L1555.5 872.7 L1556.8 874.6 L1558.0 876.5 L1559.3 878.5 L1560.6 880.4 L1561.9 882.3 L1563.2 884.3 L1564.4 886.2 L1565.7 888.1 L1567.0 890.0 L1568.3 892.0 L1569.5 893.9 L1570.8 895.8 L1572.1 897.8 L1573.4 899.7 L1574.6 901.6 L1575.9 903.5 L1577.2 905.5 L1578.5 907.4 L1579.7 909.3 L1581.0 911.2 L1582.3 913.1 L1583.6 915.1 L1584.8 917.0 L1586.1 918.9 L1587.4 920.8 L1588.7 922.7 L1589.9 924.6 L1591.2 926.6 L1592.5 928.5 L1593.8 930.4 L1595.1 932.3 L1596.3 934.2 L1597.6 936.1 L1598.9 938.0 L1600.2 939.9 L1601.4 941.8 L1602.7 943.7 L1604.0 945.6 L1605.3 947.5 L1606.5 949.4 L1607.8 951.3 L1609.1 953.2 L1610.4 955.1 L1611.6 957.0 L1612.9 958.8 L1614.2 960.7 L1615.5 962.6 L1616.7 964.5 L1618.0 966.4 L1619.3 968.2 L1620.6 970.1 L1621.8 972.0 L1623.1 973.8 L1624.4 975.7 L1625.7 977.6 L1626.9 979.4 L1628.2 981.3 L1629.5 983.1 L1630.8 985.0 L1632.1 986.8 L1633.3 988.7 L1634.6 990.5 L1635.9 992.4 L1637.2 994.2 L1638.4 996.0 L1639.7 997.9 L1641.0 999.7 L1642.3 1001.5 L1643.5 1003.4 L1644.8 1005.2 L1646.1 1007.0 L1647.4 1008.8 L1648.6 1010.6 L1649.9 1012.4 L1651.2 1014.2 L1652.5 1016.0 L1653.7 1017.8 L1655.0 1019.6 L1656.3 1021.4 L1657.6 1023.2 L1658.8 1025.0 L1660.1 1026.7 L1661.4 1028.5 L1662.7 1030.3 L1663.9 1032.0 L1665.2 1033.8 L1666.5 1035.6 L1667.8 1037.3 L1669.1 1039.1 L1670.3 1040.8 L1671.6 1042.6 L1672.9 1044.3 L1674.2 1046.0 L1675.4 1047.8 L1676.7 1049.5 L1678.0 1051.2 L1679.3 1053.0 L1680.5 1054.7 L1681.8 1056.4 L1683.1 1058.1 L1684.4 1059.8 L1685.6 1061.5 L1686.9 1063.2 L1688.2 1064.9 L1689.5 1066.6 L1690.7 1068.3 L1692.0 1070.0 L1693.3 1071.7 L1694.6 1073.4 L1695.8 1075.1 L1697.1 1076.7 L1698.4 1078.4 L1699.7 1080.1 L1701.0 1081.7 L1702.2 1083.4 L1703.5 1085.1 L1704.8 1086.7 L1706.1 1088.4 L1707.3 1090.0 L1708.6 1091.6 L1709.9 1093.3 L1711.2 1094.9 L1712.4 1096.6 L1713.7 1098.2 L1715.0 1099.8 L1716.3 1101.4 L1717.5 1103.1 L1718.8 1104.7 L1720.1 1106.3 L1721.4 1107.9 L1722.6 1109.5 L1723.9 1111.1 L1725.2 1112.7 L1726.5 1114.3 L1727.7 1115.9 L1729.0 1117.5 L1730.3 1119.1 L1731.6 1120.7 L1732.8 1122.2 L1734.1 1123.8 L1735.4 1125.4 L1736.7 1127.0 L1738.0 1128.5 L1739.2 1130.1 L1740.5 1131.6 L1741.8 1133.2 L1743.1 1134.8 L1744.3 1136.3 L1745.6 1137.9 L1746.9 1139.4 L1748.2 1140.9 L1749.4 1142.5 L1750.7 1144.0 L1752.0 1145.5 L1753.3 1147.1 L1754.5 1148.6 L1755.8 1150.1 L1757.1 1151.6 L1758.4 1153.1 L1759.6 1154.7 L1760.9 1156.2 L1762.2 1157.7 L1763.5 1159.2 L1764.7 1160.7 L1766.0 1162.2 L1767.3 1163.7 L1768.6 1165.1 L1769.8 1166.6 L1771.1 1168.1 L1772.4 1169.6 L1773.7 1171.1 L1775.0 1172.5 L1776.2 1174.0 L1777.5 1175.5 L1778.8 1176.9 L1780.1 1178.4 L1781.3 1179.8 L1782.6 1181.3 L1783.9 1182.7 L1785.2 1184.2 L1786.4 1185.6 L1787.7 1187.0 L1789.0 1188.5 L1790.3 1189.9 L1791.5 1191.3 L1792.8 1192.8 L1794.1 1194.2 L1795.4 1195.6 L1796.6 1197.0 L1797.9 1198.4 L1799.2 1199.8 L1800.5 1201.2 L1801.7 1202.6 L1803.0 1204.0 L1804.3 1205.4 L1805.6 1206.8 L1806.9 1208.2 L1808.1 1209.6 L1809.4 1211.0 L1810.7 1212.4 L1812.0 1213.7 L1813.2 1215.1 L1814.5 1216.5 L1815.8 1217.8 L1817.1 1219.2 L1818.3 1220.6 L1819.6 1221.9 L1820.9 1223.3 L1822.2 1224.6 L1823.4 1226.0 L1824.7 1227.3 L1826.0 1228.6 L1827.3 1230.0 L1828.5 1231.3 L1829.8 1232.6 L1831.1 1234.0 L1832.4 1235.3 L1833.6 1236.6 L1834.9 1237.9 L1836.2 1239.3 L1837.5 1240.6 L1838.7 1241.9 L1840.0 1243.2 L1841.3 1244.5 L1842.6 1245.8 L1843.9 1247.1 L1845.1 1248.4 L1846.4 1249.7 L1847.7 1251.0 L1849.0 1252.2 L1850.2 1253.5 L1851.5 1254.8 L1852.8 1256.1 L1854.1 1257.4 L1855.3 1258.6 L1856.6 1259.9 L1857.9 1261.1 L1859.2 1262.4 L1860.4 1263.7 L1861.7 1264.9 L1863.0 1266.2 L1864.3 1267.4 L1865.5 1268.7 L1866.8 1269.9 L1868.1 1271.1 L1869.4 1272.4 L1870.6 1273.6 L1871.9 1274.8 L1873.2 1276.1 L1874.5 1277.3 L1875.8 1278.5 L1877.0 1279.7 L1878.3 1280.9 L1879.6 1282.1 L1880.9 1283.4 L1882.1 1284.6 L1883.4 1285.8 L1884.7 1287.0 L1886.0 1288.2 L1887.2 1289.3 L1888.5 1290.5 L1889.8 1291.7 L1891.1 1292.9 L1892.3 1294.1 L1893.6 1295.3 L1894.9 1296.4 L1896.2 1297.6 L1897.4 1298.8 L1898.7 1299.9 L1900.0 1301.1 L1901.3 1302.3 L1902.5 1303.4 L1903.8 1304.6 L1905.1 1305.7 L1906.4 1306.9 L1907.6 1308.0 L1908.9 1309.1 L1910.2 1310.3 L1911.5 1311.4 L1912.8 1312.6 L1914.0 1313.7 L1915.3 1314.8 L1916.6 1315.9 L1917.9 1317.0 L1919.1 1318.2 L1920.4 1319.3 L1921.7 1320.4 L1923.0 1321.5 L1924.2 1322.6 L1925.5 1323.7 L1926.8 1324.8 L1928.1 1325.9 L1929.3 1327.0 L1930.6 1328.0 L1931.9 1329.1 L1933.2 1330.2 L1934.4 1331.3 L1935.7 1332.3 L1937.0 1333.4 L1938.3 1334.5 L1939.5 1335.5 L1940.8 1336.6 L1942.1 1337.6 L1943.4 1338.7 L1944.6 1339.7 L1945.9 1340.8 L1947.2 1341.8 L1948.5 1342.9 L1949.8 1343.9 L1951.0 1344.9 L1952.3 1345.9 L1953.6 1346.9 L1954.9 1348.0 L1956.1 1349.0 L1957.4 1350.0 L1958.7 1351.0 L1960.0 1352.0 L1961.2 1353.0 L1962.5 1354.0 L1963.8 1355.0 L1965.1 1356.0 L1966.3 1356.9 L1967.6 1357.9 L1968.9 1358.9 L1970.2 1359.9 L1971.4 1360.8 L1972.7 1361.8 L1974.0 1362.8 L1975.3 1363.7 L1976.5 1364.7 L1977.8 1365.6 L1979.1 1366.6 L1980.4 1367.6 L1981.7 1368.5 L1982.9 1369.4 L1984.2 1370.4 L1985.5 1371.3 L1986.8 1372.3 L1988.0 1373.2 L1989.3 1374.1 L1990.6 1375.1 L1991.9 1376.0 L1993.1 1376.9 L1994.4 1377.8 L1995.7 1378.8 L1997.0 1379.7 L1998.2 1380.6 L1999.5 1381.5 L2000.8 1382.4 L2002.1 1383.3 L2003.3 1384.2 L2004.6 1385.1 L2005.9 1386.0 L2007.2 1387.0 L2008.4 1387.9 L2009.7 1388.8 L2011.0 1389.6 L2012.3 1390.5 L2013.5 1391.4 L2014.8 1392.3 L2016.1 1393.2 L2017.4 1394.1 L2018.7 1395.0 L2019.9 1395.9 L2021.2 1396.8 L2022.5 1397.7 L2023.8 1398.5 L2025.0 1399.4 L2026.3 1400.3 L2027.6 1401.2 L2028.9 1402.1 L2030.1 1402.9 L2031.4 1403.8 L2032.7 1404.7 L2034.0 1405.6 L2035.2 1406.4 L2036.5 1407.3 L2037.8 1408.2 L2039.1 1409.1 L2040.3 1409.9 L2041.6 1410.8 L2042.9 1411.7 L2044.2 1412.5 L2045.4 1413.4 L2046.7 1414.3 L2048.0 1415.1 L2049.3 1416.0 L2050.6 1416.9 L2051.8 1417.7 L2053.1 1418.6 L2054.4 1419.5 L2055.7 1420.3 L2056.9 1421.2 L2058.2 1422.1 L2059.5 1422.9 L2060.8 1423.8 L2062.0 1424.6 L2063.3 1425.5 L2064.6 1426.4 L2065.9 1427.2 L2067.1 1428.1 L2068.4 1429.0 L2069.7 1429.8 L2071.0 1430.7 L2072.2 1431.5 L2073.5 1432.4 L2074.8 1433.3 L2076.1 1434.1 L2077.3 1435.0 L2078.6 1435.8 L2079.9 1436.7 L2081.2 1437.6 L2082.4 1438.4 L2083.7 1439.3 L2085.0 1440.2" fill="none" stroke="#4dbbcc" stroke-width="36" stroke-linecap="round" stroke-linejoin="round"/>
<path d="M352.0 1440.0 L353.3 1438.6 L354.6 1437.1 L355.9 1435.7 L357.2 1434.3 L358.5 1432.8 L359.8 1431.4 L361.0 1429.9 L362.3 1428.5 L363.6 1427.1 L364.9 1425.7 L366.2 1424.2 L367.5 1422.8 L368.8 1421.4 L370.1 1419.9 L371.4 1418.5 L372.7 1417.1 L374.0 1415.7 L375.3 1414.2 L376.6 1412.8 L377.8 1411.4 L379.1 1409.9 L380.4 1408.5 L381.7 1407.1 L383.0 1405.6 L384.3 1404.2 L385.6 1402.8 L386.9 1401.3 L388.2 1399.9 L389.5 1398.4 L390.8 1397.0 L392.1 1395.5 L393.4 1394.1 L394.6 1392.6 L395.9 1391.1 L397.2 1389.7 L398.5 1388.2 L399.8 1386.7 L401.1 1385.2 L402.4 1383.7 L403.7 1382.3 L405.0 1380.8 L406.3 1379.3 L407.6 1377.8 L408.9 1376.2 L410.2 1374.7 L411.4 1373.2 L412.7 1371.7 L414.0 1370.1 L415.3 1368.6 L416.6 1367.0 L417.9 1365.5 L419.2 1363.9 L420.5 1362.4 L421.8 1360.8 L423.1 1359.2 L424.4 1357.6 L425.7 1356.0 L427.0 1354.4 L428.2 1352.8 L429.5 1351.2 L430.8 1349.6 L432.1 1347.9 L433.4 1346.3 L434.7 1344.7 L436.0 1343.0 L437.3 1341.3 L438.6 1339.7 L439.9 1338.0 L441.2 1336.3 L442.5 1334.6 L443.8 1332.9 L445.0 1331.2 L446.3 1329.5 L447.6 1327.8 L448.9 1326.1 L450.2 1324.4 L451.5 1322.6 L452.8 1320.9 L454.1 1319.1 L455.4 1317.4 L456.7 1315.6 L458.0 1313.8 L459.3 1312.0 L460.6 1310.2 L461.8 1308.4 L463.1 1306.6 L464.4 1304.8 L465.7 1303.0 L467.0 1301.2 L468.3 1299.4 L469.6 1297.5 L470.9 1295.7 L472.2 1293.8 L473.5 1292.0 L474.8 1290.1 L476.1 1288.2 L477.4 1286.4 L478.7 1284.5 L479.9 1282.6 L481.2 1280.7 L482.5 1278.8 L483.8 1276.9 L485.1 1275.0 L486.4 1273.0 L487.7 1271.1 L489.0 1269.2 L490.3 1267.2 L491.6 1265.3 L492.9 1263.3 L494.2 1261.4 L495.5 1259.4 L496.7 1257.4 L498.0 1255.4 L499.3 1253.5 L500.6 1251.5 L501.9 1249.5 L503.2 1247.5 L504.5 1245.5 L505.8 1243.5 L507.1 1241.4 L508.4 1239.4 L509.7 1237.4 L511.0 1235.4 L512.3 1233.3 L513.5 1231.3 L514.8 1229.2 L516.1 1227.2 L517.4 1225.1 L518.7 1223.0 L520.0 1220.9 L521.3 1218.9 L522.6 1216.8 L523.9 1214.7 L525.2 1212.6 L526.5 1210.5 L527.8 1208.4 L529.1 1206.2 L530.3 1204.1 L531.6 1202.0 L532.9 1199.9 L534.2 1197.7 L535.5 1195.6 L536.8 1193.4 L538.1 1191.2 L539.4 1189.1 L540.7 1186.9 L542.0 1184.7 L543.3 1182.5 L544.6 1180.3 L545.9 1178.1 L547.1 1175.9 L548.4 1173.7 L549.7 1171.5 L551.0 1169.3 L552.3 1167.0 L553.6 1164.8 L554.9 1162.6 L556.2 1160.3 L557.5 1158.0 L558.8 1155.8 L560.1 1153.5 L561.4 1151.2 L562.7 1148.9 L563.9 1146.6 L565.2 1144.3 L566.5 1142.0 L567.8 1139.7 L569.1 1137.4 L570.4 1135.0 L571.7 1132.7 L573.0 1130.3 L574.3 1128.0 L575.6 1125.6 L576.9 1123.3 L578.2 1120.9 L579.5 1118.5 L580.7 1116.1 L582.0 1113.7 L583.3 1111.3 L584.6 1108.9 L585.9 1106.5 L587.2 1104.1 L588.5 1101.6 L589.8 1099.2 L591.1 1096.7 L592.4 1094.3 L593.7 1091.8 L595.0 1089.3 L596.3 1086.9 L597.5 1084.4 L598.8 1081.9 L600.1 1079.4 L601.4 1076.9 L602.7 1074.3 L604.0 1071.8 L605.3 1069.3 L606.6 1066.7 L607.9 1064.2 L609.2 1061.6 L610.5 1059.1 L611.8 1056.5 L613.1 1053.9 L614.3 1051.3 L615.6 1048.7 L616.9 1046.1 L618.2 1043.5 L619.5 1040.9 L620.8 1038.3 L622.1 1035.7 L623.4 1033.0 L624.7 1030.4 L626.0 1027.8 L627.3 1025.1 L628.6 1022.4 L629.9 1019.8 L631.1 1017.1 L632.4 1014.4 L633.7 1011.7 L635.0 1009.0 L636.3 1006.3 L637.6 1003.6 L638.9 1000.9 L640.2 998.2 L641.5 995.5 L642.8 992.8 L644.1 990.0 L645.4 987.3 L646.7 984.5 L647.9 981.8 L649.2 979.0 L650.5 976.3 L651.8 973.5 L653.1 970.7 L654.4 968.0 L655.7 965.2 L657.0 962.4 L658.3 959.6 L659.6 956.8 L660.9 954.0 L662.2 951.2 L663.5 948.4 L664.7 945.6 L666.0 942.8 L667.3 940.0 L668.6 937.1 L669.9 934.3 L671.2 931.5 L672.5 928.6 L673.8 925.8 L675.1 923.0 L676.4 920.1 L677.7 917.3 L679.0 914.4 L680.3 911.5 L681.5 908.7 L682.8 905.8 L684.1 903.0 L685.4 900.1 L686.7 897.2 L688.0 894.3 L689.3 891.5 L690.6 888.6 L691.9 885.7 L693.2 882.8 L694.5 879.9 L695.8 877.0 L697.1 874.1 L698.4 871.3 L699.6 868.4 L700.9 865.5 L702.2 862.6 L703.5 859.7 L704.8 856.8 L706.1 853.9 L707.4 851.0 L708.7 848.0 L710.0 845.1 L711.3 842.2 L712.6 839.3 L713.9 836.4 L715.2 833.5 L716.4 830.6 L717.7 827.7 L719.0 824.8 L720.3 821.8 L721.6 818.9 L722.9 816.0 L724.2 813.1 L725.5 810.2 L726.8 807.3 L728.1 804.4 L729.4 801.4 L730.7 798.5 L732.0 795.6 L733.2 792.7 L734.5 789.8 L735.8 786.9 L737.1 784.0 L738.4 781.0 L739.7 778.1 L741.0 775.2 L742.3 772.3 L743.6 769.4 L744.9 766.5 L746.2 763.6 L747.5 760.7 L748.8 757.8 L750.0 754.9 L751.3 752.0 L752.6 749.1 L753.9 746.2 L755.2 743.3 L756.5 740.5 L757.8 737.6 L759.1 734.7 L760.4 731.8 L761.7 728.9 L763.0 726.1 L764.3 723.2 L765.6 720.3 L766.8 717.5 L768.1 714.6 L769.4 711.7 L770.7 708.9 L772.0 706.0 L773.3 703.2 L774.6 700.3 L775.9 697.5 L777.2 694.7 L778.5 691.8 L779.8 689.0 L781.1 686.2 L782.4 683.4 L783.6 680.5 L784.9 677.7 L786.2 674.9 L787.5 672.1 L788.8 669.3 L790.1 666.5 L791.4 663.7 L792.7 660.9 L794.0 658.2 L795.3 655.4 L796.6 652.6 L797.9 649.8 L799.2 647.1 L800.4 644.3 L801.7 641.6 L803.0 638.8 L804.3 636.1 L805.6 633.3 L806.9 630.6 L808.2 627.9 L809.5 625.2 L810.8 622.5 L812.1 619.8 L813.4 617.1 L814.7 614.4 L816.0 611.7 L817.2 609.0 L818.5 606.4 L819.8 603.7 L821.1 601.0 L822.4 598.4 L823.7 595.7 L825.0 593.1 L826.3 590.5 L827.6 587.9 L828.9 585.2 L830.2 582.6 L831.5 580.0 L832.8 577.4 L834.0 574.9 L835.3 572.3 L836.6 569.7 L837.9 567.2 L839.2 564.6 L840.5 562.1 L841.8 559.5 L843.1 557.0 L844.4 554.5 L845.7 552.0 L847.0 549.5 L848.3 547.0 L849.6 544.5 L850.8 542.1 L852.1 539.6 L853.4 537.2 L854.7 534.7 L856.0 532.3 L857.3 529.9 L858.6 527.4 L859.9 525.0 L861.2 522.7 L862.5 520.3 L863.8 517.9 L865.1 515.5 L866.4 513.2 L867.6 510.8 L868.9 508.5 L870.2 506.2 L871.5 503.9 L872.8 501.6 L874.1 499.3 L875.4 497.1 L876.7 494.8 L878.0 492.6 L879.3 490.3 L880.6 488.1 L881.9 485.9 L883.2 483.7 L884.4 481.5 L885.7 479.4 L887.0 477.2 L888.3 475.1 L889.6 473.0 L890.9 470.8 L892.2 468.7 L893.5 466.7 L894.8 464.6 L896.1 462.5 L897.4 460.5 L898.7 458.5 L900.0 456.5 L901.2 454.5 L902.5 452.5 L903.8 450.5 L905.1 448.6 L906.4 446.6 L907.7 444.7 L909.0 442.8 L910.3 440.9 L911.6 439.1 L912.9 437.2 L914.2 435.4 L915.5 433.6 L916.8 431.8 L918.1 430.0 L919.3 428.2 L920.6 426.4 L921.9 424.7 L923.2 423.0 L924.5 421.3 L925.8 419.6 L927.1 417.9 L928.4 416.3 L929.7 414.7 L931.0 413.0 L932.3 411.4 L933.6 409.9 L934.9 408.3 L936.1 406.8 L937.4 405.3 L938.7 403.7 L940.0 402.3 L941.3 400.8 L942.6 399.4 L943.9 397.9 L945.2 396.5 L946.5 395.1 L947.8 393.8 L949.1 392.4 L950.4 391.1 L951.7 389.8 L952.9 388.5 L954.2 387.2 L955.5 386.0 L956.8 384.7 L958.1 383.5 L959.4 382.3 L960.7 381.1 L962.0 380.0 L963.3 378.8 L964.6 377.7 L965.9 376.6 L967.2 375.6 L968.5 374.5 L969.7 373.5 L971.0 372.4 L972.3 371.4 L973.6 370.5 L974.9 369.5 L976.2 368.6 L977.5 367.6 L978.8 366.7 L980.1 365.9 L981.4 365.0 L982.7 364.2 L984.0 363.4 L985.3 362.6 L986.5 361.8 L987.8 361.0 L989.1 360.3 L990.4 359.6 L991.7 358.9 L993.0 358.2 L994.3 357.6 L995.6 356.9 L996.9 356.3 L998.2 355.7 L999.5 355.1 L1000.8 354.6 L1002.1 354.1 L1003.3 353.6 L1004.6 353.1 L1005.9 352.6 L1007.2 352.1 L1008.5 351.7 L1009.8 351.3 L1011.1 350.9 L1012.4 350.5 L1013.7 350.2 L1015.0 349.9 L1016.3 349.5 L1017.6 349.3 L1018.9 349.0 L1020.1 348.7 L1021.4 348.5 L1022.7 348.3 L1024.0 348.1 L1025.3 347.9 L1026.6 347.8 L1027.9 347.6 L1029.2 347.5 L1030.5 347.4 L1031.8 347.3 L1033.1 347.3 L1034.4 347.2 L1035.7 347.2 L1036.9 347.2 L1038.2 347.2 L1039.5 347.3 L1040.8 347.3 L1042.1 347.4 L1043.4 347.5 L1044.7 347.6 L1046.0 347.7 L1047.3 347.9 L1048.6 348.0 L1049.9 348.2 L1051.2 348.4 L1052.5 348.6 L1053.7 348.9 L1055.0 349.1 L1056.3 349.4 L1057.6 349.7 L1058.9 350.0 L1060.2 350.3 L1061.5 350.7 L1062.8 351.0 L1064.1 351.4 L1065.4 351.8 L1066.7 352.2 L1068.0 352.7 L1069.3 353.1 L1070.5 353.6 L1071.8 354.0 L1073.1 354.5 L1074.4 355.0 L1075.7 355.6 L1077.0 356.1 L1078.3 356.7 L1079.6 357.2 L1080.9 357.8 L1082.2 358.4 L1083.5 359.1 L1084.8 359.7 L1086.1 360.4 L1087.3 361.0 L1088.6 361.7 L1089.9 362.4 L1091.2 363.1 L1092.5 363.9 L1093.8 364.6 L1095.1 365.4 L1096.4 366.1 L1097.7 366.9 L1099.0 367.7 L1100.3 368.5 L1101.6 369.4 L1102.9 370.2 L1104.1 371.1 L1105.4 372.0 L1106.7 372.9 L1108.0 373.8 L1109.3 374.7 L1110.6 375.6 L1111.9 376.6 L1113.2 377.5 L1114.5 378.5 L1115.8 379.5 L1117.1 380.5 L1118.4 381.5 L1119.7 382.5 L1120.9 383.6 L1122.2 384.6 L1123.5 385.7 L1124.8 386.8 L1126.1 387.9 L1127.4 389.0 L1128.7 390.1 L1130.0 391.3 L1131.3 392.4 L1132.6 393.6 L1133.9 394.8 L1135.2 396.0 L1136.5 397.2 L1137.7 398.4 L1139.0 399.6 L1140.3 400.9 L1141.6 402.1 L1142.9 403.4 L1144.2 404.7 L1145.5 406.0 L1146.8 407.3 L1148.1 408.6 L1149.4 409.9 L1150.7 411.3 L1152.0 412.7 L1153.3 414.0 L1154.6 415.4 L1155.8 416.8 L1157.1 418.2 L1158.4 419.7 L1159.7 421.1 L1161.0 422.5 L1162.3 424.0 L1163.6 425.5 L1164.9 427.0 L1166.2 428.5 L1167.5 430.0 L1168.8 431.5 L1170.1 433.0 L1171.4 434.6 L1172.6 436.1 L1173.9 437.7 L1175.2 439.3 L1176.5 440.9 L1177.8 442.5 L1179.1 444.1 L1180.4 445.7 L1181.7 447.4 L1183.0 449.0 L1184.3 450.7 L1185.6 452.3 L1186.9 454.0 L1188.2 455.7 L1189.4 457.4 L1190.7 459.1 L1192.0 460.8 L1193.3 462.6 L1194.6 464.3 L1195.9 466.1 L1197.2 467.8 L1198.5 469.6 L1199.8 471.4 L1201.1 473.1 L1202.4 474.9 L1203.7 476.7 L1205.0 478.6 L1206.2 480.4 L1207.5 482.2 L1208.8 484.0 L1210.1 485.9 L1211.4 487.7 L1212.7 489.6 L1214.0 491.5 L1215.3 493.4 L1216.6 495.2 L1217.9 497.1 L1219.2 499.0 L1220.5 500.9 L1221.8 502.9 L1223.0 504.8 L1224.3 506.7 L1225.6 508.6 L1226.9 510.6 L1228.2 512.5 L1229.5 514.5 L1230.8 516.4 L1232.1 518.4 L1233.4 520.4 L1234.7 522.3 L1236.0 524.3 L1237.3 526.3 L1238.6 528.3 L1239.8 530.3 L1241.1 532.3 L1242.4 534.3 L1243.7 536.3 L1245.0 538.3 L1246.3 540.4 L1247.6 542.4 L1248.9 544.4 L1250.2 546.5 L1251.5 548.5 L1252.8 550.5 L1254.1 552.6 L1255.4 554.6 L1256.6 556.7 L1257.9 558.7 L1259.2 560.8 L1260.5 562.9 L1261.8 564.9 L1263.1 567.0 L1264.4 569.0 L1265.7 571.1 L1267.0 573.2 L1268.3 575.3 L1269.6 577.3 L1270.9 579.4 L1272.2 581.5 L1273.4 583.6 L1274.7 585.6 L1276.0 587.7 L1277.3 589.8 L1278.6 591.9 L1279.9 594.0 L1281.2 596.0 L1282.5 598.1 L1283.8 600.2 L1285.1 602.3 L1286.4 604.4 L1287.7 606.5 L1289.0 608.5 L1290.2 610.6 L1291.5 612.7 L1292.8 614.8 L1294.1 616.8 L1295.4 618.9 L1296.7 621.0 L1298.0 623.1 L1299.3 625.1 L1300.6 627.2 L1301.9 629.3 L1303.2 631.3 L1304.5 633.4 L1305.8 635.5 L1307.0 637.5 L1308.3 639.6 L1309.6 641.6 L1310.9 643.7 L1312.2 645.7 L1313.5 647.8 L1314.8 649.8 L1316.1 651.9 L1317.4 653.9 L1318.7 656.0 L1320.0 658.0 L1321.3 660.1 L1322.6 662.1 L1323.8 664.2 L1325.1 666.2 L1326.4 668.2 L1327.7 670.3 L1329.0 672.3 L1330.3 674.4 L1331.6 676.4 L1332.9 678.4 L1334.2 680.5 L1335.5 682.5 L1336.8 684.5 L1338.1 686.6 L1339.4 688.6 L1340.6 690.6 L1341.9 692.6 L1343.2 694.7 L1344.5 696.7 L1345.8 698.7 L1347.1 700.7 L1348.4 702.7 L1349.7 704.8 L1351.0 706.8 L1352.3 708.8 L1353.6 710.8 L1354.9 712.8 L1356.2 714.8 L1357.4 716.8 L1358.7 718.8 L1360.0 720.8 L1361.3 722.8 L1362.6 724.8 L1363.9 726.7 L1365.2 728.7 L1366.5 730.7 L1367.8 732.7 L1369.1 734.7 L1370.4 736.6 L1371.7 738.6 L1373.0 740.5 L1374.3 742.5 L1375.5 744.5 L1376.8 746.4 L1378.1 748.4 L1379.4 750.3 L1380.7 752.2 L1382.0 754.2 L1383.3 756.1 L1384.6 758.0 L1385.9 760.0 L1387.2 761.9 L1388.5 763.8 L1389.8 765.7 L1391.1 767.6 L1392.3 769.5 L1393.6 771.4 L1394.9 773.3 L1396.2 775.2 L1397.5 777.1 L1398.8 779.0 L1400.1 780.9 L1401.4 782.7 L1402.7 784.6 L1404.0 786.5 L1405.3 788.3 L1406.6 790.2 L1407.9 792.1 L1409.1 793.9 L1410.4 795.8 L1411.7 797.6 L1413.0 799.4 L1414.3 801.3 L1415.6 803.1 L1416.9 804.9 L1418.2 806.7 L1419.5 808.5 L1420.8 810.3 L1422.1 812.2 L1423.4 814.0 L1424.7 815.7 L1425.9 817.5 L1427.2 819.3 L1428.5 821.1 L1429.8 822.9 L1431.1 824.6 L1432.4 826.4 L1433.7 828.2 L1435.0 829.9 L1436.3 831.7 L1437.6 833.4 L1438.9 835.2 L1440.2 836.9 L1441.5 838.6 L1442.7 840.3 L1444.0 842.1 L1445.3 843.8 L1446.6 845.5 L1447.9 847.2 L1449.2 848.9 L1450.5 850.6 L1451.8 852.3 L1453.1 854.0 L1454.4 855.6 L1455.7 857.3 L1457.0 859.0 L1458.3 860.6 L1459.5 862.3 L1460.8 864.0 L1462.1 865.6 L1463.4 867.3 L1464.7 868.9 L1466.0 870.5 L1467.3 872.2 L1468.6 873.8 L1469.9 875.4 L1471.2 877.0 L1472.5 878.7 L1473.8 880.3 L1475.1 881.9 L1476.3 883.5 L1477.6 885.1 L1478.9 886.7 L1480.2 888.2 L1481.5 889.8 L1482.8 891.4 L1484.1 893.0 L1485.4 894.5 L1486.7 896.1 L1488.0 897.7 L1489.3 899.2 L1490.6 900.8 L1491.9 902.3 L1493.1 903.9 L1494.4 905.4 L1495.7 906.9 L1497.0 908.5 L1498.3 910.0 L1499.6 911.5 L1500.9 913.0 L1502.2 914.5 L1503.5 916.0 L1504.8 917.5 L1506.1 919.0 L1507.4 920.5 L1508.7 922.0 L1509.9 923.5 L1511.2 924.9 L1512.5 926.4 L1513.8 927.9 L1515.1 929.3 L1516.4 930.8 L1517.7 932.2 L1519.0 933.7 L1520.3 935.1 L1521.6 936.5 L1522.9 938.0 L1524.2 939.4 L1525.5 940.8 L1526.7 942.2 L1528.0 943.6 L1529.3 945.0 L1530.6 946.4 L1531.9 947.8 L1533.2 949.2 L1534.5 950.5 L1535.8 951.9 L1537.1 953.3 L1538.4 954.6 L1539.7 956.0 L1541.0 957.3 L1542.3 958.7 L1543.5 960.0 L1544.8 961.3 L1546.1 962.7 L1547.4 964.0 L1548.7 965.3 L1550.0 966.6 L1551.3 967.9 L1552.6 969.2 L1553.9 970.5 L1555.2 971.8 L1556.5 973.1 L1557.8 974.3 L1559.1 975.6 L1560.3 976.9 L1561.6 978.1 L1562.9 979.4 L1564.2 980.6 L1565.5 981.9 L1566.8 983.1 L1568.1 984.3 L1569.4 985.5 L1570.7 986.8 L1572.0 988.0 L1573.3 989.2 L1574.6 990.4 L1575.9 991.6 L1577.1 992.8 L1578.4 993.9 L1579.7 995.1 L1581.0 996.3 L1582.3 997.5 L1583.6 998.6 L1584.9 999.8 L1586.2 1000.9 L1587.5 1002.1 L1588.8 1003.2 L1590.1 1004.3 L1591.4 1005.5 L1592.7 1006.6 L1593.9 1007.7 L1595.2 1008.8 L1596.5 1009.9 L1597.8 1011.0 L1599.1 1012.1 L1600.4 1013.2 L1601.7 1014.3 L1603.0 1015.4 L1604.3 1016.5 L1605.6 1017.5 L1606.9 1018.6 L1608.2 1019.6 L1609.5 1020.7 L1610.8 1021.7 L1612.0 1022.8 L1613.3 1023.8 L1614.6 1024.8 L1615.9 1025.9 L1617.2 1026.9 L1618.5 1027.9 L1619.8 1028.9 L1621.1 1029.9 L1622.4 1030.9 L1623.7 1031.9 L1625.0 1032.9 L1626.3 1033.8 L1627.6 1034.8 L1628.8 1035.8 L1630.1 1036.8 L1631.4 1037.7 L1632.7 1038.7 L1634.0 1039.6 L1635.3 1040.6 L1636.6 1041.5 L1637.9 1042.4 L1639.2 1043.4 L1640.5 1044.3 L1641.8 1045.2 L1643.1 1046.1 L1644.4 1047.0 L1645.6 1047.9 L1646.9 1048.8 L1648.2 1049.7 L1649.5 1050.6 L1650.8 1051.5 L1652.1 1052.4 L1653.4 1053.3 L1654.7 1054.2 L1656.0 1055.0 L1657.3 1055.9 L1658.6 1056.8 L1659.9 1057.6 L1661.2 1058.5 L1662.4 1059.3 L1663.7 1060.2 L1665.0 1061.0 L1666.3 1061.8 L1667.6 1062.7 L1668.9 1063.5 L1670.2 1064.3 L1671.5 1065.1 L1672.8 1065.9 L1674.1 1066.7 L1675.4 1067.6 L1676.7 1068.4 L1678.0 1069.2 L1679.2 1069.9 L1680.5 1070.7 L1681.8 1071.5 L1683.1 1072.3 L1684.4 1073.1 L1685.7 1073.8 L1687.0 1074.6 L1688.3 1075.4 L1689.6 1076.1 L1690.9 1076.9 L1692.2 1077.7 L1693.5 1078.4 L1694.8 1079.2 L1696.0 1079.9 L1697.3 1080.6 L1698.6 1081.4 L1699.9 1082.1 L1701.2 1082.8 L1702.5 1083.5 L1703.8 1084.3 L1705.1 1085.0 L1706.4 1085.7 L1707.7 1086.4 L1709.0 1087.1 L1710.3 1087.8 L1711.6 1088.5 L1712.8 1089.2 L1714.1 1089.9 L1715.4 1090.6 L1716.7 1091.3 L1718.0 1091.9 L1719.3 1092.6 L1720.6 1093.3 L1721.9 1093.9 L1723.2 1094.6 L1724.5 1095.3 L1725.8 1095.9 L1727.1 1096.6 L1728.4 1097.2 L1729.6 1097.9 L1730.9 1098.5 L1732.2 1099.2 L1733.5 1099.8 L1734.8 1100.4 L1736.1 1101.1 L1737.4 1101.7 L1738.7 1102.3 L1740.0 1102.9 L1741.3 1103.5 L1742.6 1104.2 L1743.9 1104.8 L1745.2 1105.4 L1746.4 1106.0 L1747.7 1106.6 L1749.0 1107.2 L1750.3 1107.8 L1751.6 1108.3 L1752.9 1108.9 L1754.2 1109.5 L1755.5 1110.1 L1756.8 1110.7 L1758.1 1111.2 L1759.4 1111.8 L1760.7 1112.4 L1762.0 1112.9 L1763.2 1113.5 L1764.5 1114.0 L1765.8 1114.6 L1767.1 1115.1 L1768.4 1115.7 L1769.7 1116.2 L1771.0 1116.8 L1772.3 1117.3 L1773.6 1117.8 L1774.9 1118.4 L1776.2 1118.9 L1777.5 1119.4 L1778.8 1119.9 L1780.0 1120.5 L1781.3 1121.0 L1782.6 1121.5 L1783.9 1122.0 L1785.2 1122.5 L1786.5 1123.0 L1787.8 1123.5 L1789.1 1124.0 L1790.4 1124.5 L1791.7 1125.0 L1793.0 1125.4 L1794.3 1125.9 L1795.6 1126.4 L1796.8 1126.9 L1798.1 1127.3 L1799.4 1127.8 L1800.7 1128.3 L1802.0 1128.7 L1803.3 1129.2 L1804.6 1129.6 L1805.9 1130.1 L1807.2 1130.5 L1808.5 1131.0 L1809.8 1131.4 L1811.1 1131.9 L1812.4 1132.3 L1813.6 1132.7 L1814.9 1133.2 L1816.2 1133.6 L1817.5 1134.0 L1818.8 1134.4 L1820.1 1134.9 L1821.4 1135.3 L1822.7 1135.7 L1824.0 1136.1 L1825.3 1136.5 L1826.6 1136.9 L1827.9 1137.3 L1829.2 1137.7 L1830.5 1138.1 L1831.7 1138.5 L1833.0 1138.9 L1834.3 1139.2 L1835.6 1139.6 L1836.9 1140.0 L1838.2 1140.4 L1839.5 1140.7 L1840.8 1141.1 L1842.1 1141.5 L1843.4 1141.8 L1844.7 1142.2 L1846.0 1142.5 L1847.3 1142.9 L1848.5 1143.2 L1849.8 1143.6 L1851.1 1143.9 L1852.4 1144.3 L1853.7 1144.6 L1855.0 1144.9 L1856.3 1145.2 L1857.6 1145.6 L1858.9 1145.9 L1860.2 1146.2 L1861.5 1146.5 L1862.8 1146.8 L1864.1 1147.2 L1865.3 1147.5 L1866.6 1147.8 L1867.9 1148.1 L1869.2 1148.4 L1870.5 1148.7 L1871.8 1149.0 L1873.1 1149.3 L1874.4 1149.5 L1875.7 1149.8 L1877.0 1150.1 L1878.3 1150.4 L1879.6 1150.7 L1880.9 1150.9 L1882.1 1151.2 L1883.4 1151.5 L1884.7 1151.8 L1886.0 1152.0 L1887.3 1152.3 L1888.6 1152.5 L1889.9 1152.8 L1891.2 1153.1 L1892.5 1153.3 L1893.8 1153.6 L1895.1 1153.8 L1896.4 1154.1 L1897.7 1154.3 L1898.9 1154.6 L1900.2 1154.8 L1901.5 1155.0 L1902.8 1155.3 L1904.1 1155.5 L1905.4 1155.7 L1906.7 1156.0 L1908.0 1156.2 L1909.3 1156.4 L1910.6 1156.6 L1911.9 1156.9 L1913.2 1157.1 L1914.5 1157.3 L1915.7 1157.5 L1917.0 1157.7 L1918.3 1158.0 L1919.6 1158.2 L1920.9 1158.4 L1922.2 1158.6 L1923.5 1158.8 L1924.8 1159.0 L1926.1 1159.2 L1927.4 1159.4 L1928.7 1159.6 L1930.0 1159.8 L1931.3 1160.0 L1932.5 1160.2 L1933.8 1160.4 L1935.1 1160.6 L1936.4 1160.8 L1937.7 1161.0 L1939.0 1161.2 L1940.3 1161.3 L1941.6 1161.5 L1942.9 1161.7 L1944.2 1161.9 L1945.5 1162.1 L1946.8 1162.3 L1948.1 1162.4 L1949.3 1162.6 L1950.6 1162.8 L1951.9 1163.0 L1953.2 1163.2 L1954.5 1163.3 L1955.8 1163.5 L1957.1 1163.7 L1958.4 1163.8 L1959.7 1164.0 L1961.0 1164.2 L1962.3 1164.3 L1963.6 1164.5 L1964.9 1164.7 L1966.1 1164.8 L1967.4 1165.0 L1968.7 1165.2 L1970.0 1165.3 L1971.3 1165.5 L1972.6 1165.6 L1973.9 1165.8 L1975.2 1165.9 L1976.5 1166.1 L1977.8 1166.3 L1979.1 1166.4 L1980.4 1166.6 L1981.7 1166.7 L1982.9 1166.8 L1984.2 1167.0 L1985.5 1167.1 L1986.8 1167.3 L1988.1 1167.4 L1989.4 1167.6 L1990.7 1167.7 L1992.0 1167.8 L1993.3 1168.0 L1994.6 1168.1 L1995.9 1168.2 L1997.2 1168.4 L1998.5 1168.5 L1999.7 1168.6 L2001.0 1168.8 L2002.3 1168.9 L2003.6 1169.0 L2004.9 1169.2 L2006.2 1169.3 L2007.5 1169.4 L2008.8 1169.5 L2010.1 1169.6 L2011.4 1169.8 L2012.7 1169.9 L2014.0 1170.0 L2015.3 1170.1 L2016.5 1170.2 L2017.8 1170.3 L2019.1 1170.5 L2020.4 1170.6 L2021.7 1170.7 L2023.0 1170.8 L2024.3 1170.9 L2025.6 1171.0 L2026.9 1171.1 L2028.2 1171.2 L2029.5 1171.3 L2030.8 1171.4 L2032.1 1171.5 L2033.3 1171.6 L2034.6 1171.7 L2035.9 1171.8 L2037.2 1171.9 L2038.5 1172.0 L2039.8 1172.1 L2041.1 1172.2 L2042.4 1172.2 L2043.7 1172.3 L2045.0 1172.4 L2046.3 1172.5 L2047.6 1172.6 L2048.9 1172.7 L2050.2 1172.8 L2051.4 1172.8 L2052.7 1172.9 L2054.0 1173.0 L2055.3 1173.1 L2056.6 1173.2 L2057.9 1173.2 L2059.2 1173.3 L2060.5 1173.4 L2061.8 1173.4 L2063.1 1173.5 L2064.4 1173.6 L2065.7 1173.7 L2067.0 1173.7 L2068.2 1173.8 L2069.5 1173.9 L2070.8 1173.9 L2072.1 1174.0 L2073.4 1174.1 L2074.7 1174.1 L2076.0 1174.2 L2077.3 1174.2 L2078.6 1174.3 L2079.9 1174.4 L2081.2 1174.4 L2082.5 1174.5 L2083.8 1174.5 L2085.0 1174.6 L2086.3 1174.7 L2087.6 1174.7 L2088.9 1174.8 L2090.2 1174.8 L2091.5 1174.9 L2092.8 1174.9 L2094.1 1175.0 L2095.4 1175.0 L2096.7 1175.1 L2098.0 1175.1 L2099.3 1175.2 L2100.6 1175.2 L2101.8 1175.3 L2103.1 1175.3 L2104.4 1175.4 L2105.7 1175.4 L2107.0 1175.5 L2108.3 1175.5 L2109.6 1175.6 L2110.9 1175.6 L2112.2 1175.6 L2113.5 1175.7 L2114.8 1175.7 L2116.1 1175.8 L2117.4 1175.8 L2118.6 1175.9 L2119.9 1175.9 L2121.2 1175.9 L2122.5 1176.0 L2123.8 1176.0 L2125.1 1176.1 L2126.4 1176.1 L2127.7 1176.1 L2129.0 1176.2 L2130.3 1176.2 L2131.6 1176.3 L2132.9 1176.3 L2134.2 1176.3 L2135.4 1176.4 L2136.7 1176.4 L2138.0 1176.5 L2139.3 1176.5 L2140.6 1176.5 L2141.9 1176.6 L2143.2 1176.6 L2144.5 1176.6 L2145.8 1176.7 L2147.1 1176.7 L2148.4 1176.8 L2149.7 1176.8 L2151.0 1176.8 L2152.2 1176.9 L2153.5 1176.9 L2154.8 1176.9 L2156.1 1177.0 L2157.4 1177.0 L2158.7 1177.1 L2160.0 1177.1" fill="none" stroke="#ff0080" stroke-width="36" stroke-linecap="round" stroke-linejoin="round"/>
</g>
<use href="#b" x="1520" y="196"/>
<circle cx="1520" cy="283" r="17" fill="#4dbbcc"/>
<circle cx="1520" cy="370" r="17" fill="#ff0080"/>
<g transform="matrix(0.9752,0,0,0.9662,40.09,7.95)"><text x="1616" y="220" font-size="72" font-weight="bold">Experiment</text></g>
<g transform="matrix(0.9752,0,0,0.9936,40.07,1.76)"><text x="1616" y="307" font-size="72" font-weight="bold">FZM</text></g>
<g transform="matrix(0.9733,0,0,0.9936,43.02,2.21)"><text x="1616" y="394" font-size="72" font-weight="bold">MFZM</text></g>
<g transform="matrix(0.9625,0,0,0.9950,5.06,8.10)"><text transform="translate(111,1242) rotate(-90)" font-size="114" font-weight="bold">Loss modulus (MPa)</text></g>
<g transform="matrix(1.0465,0,0,0.9891,-45.35,17.68)"><text x="930" y="1636" font-size="110" font-weight="bold">log(</text></g>
<g transform="matrix(1.1970,0,0,1.0672,-224.00,-107.27)"><text x="1120" y="1636" font-size="120" font-weight="bold" font-style="italic">α</text></g>
<g transform="matrix(0.9020,0,0,1.0189,115.27,-31.47)"><text x="1185" y="1668" font-size="80" font-weight="bold">T</text></g>
<g transform="matrix(0.7778,0,0,0.7778,272.33,363.13)"><text x="1230" y="1636" font-size="110" font-weight="bold">·</text></g>
<g transform="matrix(1.1719,0,0,0.9355,-205.92,107.98)"><text x="1240" y="1636" font-size="110" style="font-family:'DejaVu Serif'" font-style="italic">f</text></g>
<g transform="matrix(1.0293,0,0,1.0111,-37.41,-17.43)"><text x="1326" y="1636" font-size="110" font-weight="bold">/Hz)</text></g>
</svg></body></html>
